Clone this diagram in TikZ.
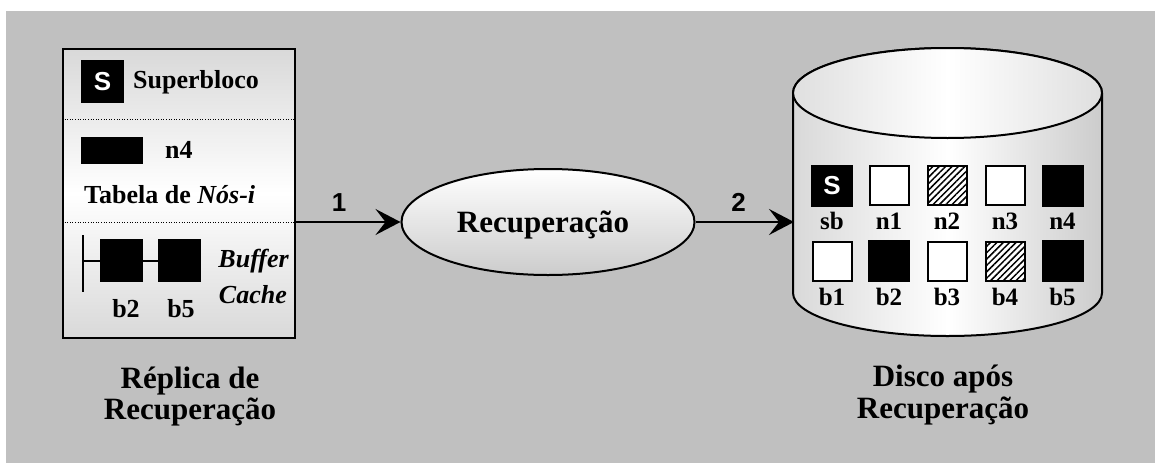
\documentclass[tikz,border=0pt]{standalone}
\usepackage{fontspec}
\setmainfont{Liberation Serif}
\newfontfamily\sansb{Liberation Sans}
\usetikzlibrary{shapes.geometric,arrows.meta,patterns.meta}
\definecolor{bggray}{RGB}{192,192,192}
\begin{document}
\begin{tikzpicture}[x=1pt,y=-1pt,
  lw/.style={line width=2pt},
  blk/.style={draw=black,fill=black,lw,inner sep=0,minimum size=40pt},
  wht/.style={draw=black,fill=white,lw,inner sep=0,minimum size=39pt},
  hat/.style={draw=black,fill=white,lw,inner sep=0,minimum size=39pt,
     postaction={pattern={Lines[angle=45,distance=4.5pt,line width=1.5pt]}}},
  lbl/.style={font=\fontsize{25}{28}\selectfont\bfseries,inner sep=0,anchor=base},
  txt/.style={font=\fontsize{26}{30}\selectfont\bfseries,inner sep=0},
  captxt/.style={font=\fontsize{31}{34}\selectfont\bfseries,inner sep=0,anchor=base},
  num/.style={font=\sansb\fontsize{26}{28}\selectfont\bfseries,inner sep=0,anchor=base},
  arr/.style={lw,-{Stealth[length=25pt,width=26pt,inset=10pt]}},
  dots/.style={line width=1pt,dash pattern=on 1pt off 1.6pt}]
\useasboundingbox (0,0) rectangle (1155,463);
\fill[bggray] (6,11) rectangle (1155,463);

% left box
\node (rep) [rectangle,draw,lw,inner sep=0,minimum width=232pt,minimum height=289pt,
  top color=gray!30,bottom color=gray!30,middle color=white] at (179,193.5) {};
\draw[dots] (rep.west |- 0,119) -- (rep.east |- 0,119);
\draw[dots] (rep.west |- 0,222) coordinate (d2w) -- (rep.east |- 0,222) coordinate (d2e);
\node (sq) [blk,minimum size=41pt,text=white,font=\sansb\fontsize{26}{28}\selectfont\bfseries] at (102.5,81.5) {S};
\node (sup) [txt,anchor=base west] at (133,88) {Superbloco};
\node (n4r) [blk,minimum width=60pt,minimum height=25pt] at (112,150.5) {};
\node (n4t) [txt,anchor=base west] at (165,158) {n4};
\node (tab) [txt,anchor=base west] at (84,203) {Tabela de \textit{Nós-i}};
\node (bb2) [blk,minimum size=41pt] at (121.5,260.5) {};
\node (bb5) [blk,minimum size=41pt] at (179,260.5) {};
\coordinate (vt) at (83,235);
\coordinate (vb) at (83,292);
\draw[lw] (vt) -- (vb);
\draw[lw] (vt |- bb2.west) -- (bb2.west);
\draw[lw] (bb2.east) -- (bb5.west);
\node (buf) [txt,anchor=base east,font=\fontsize{26}{30}\selectfont\bfseries\itshape] at (289,267) {Buffer};
\node (cac) [txt,anchor=base east,font=\fontsize{26}{30}\selectfont\bfseries\itshape] at (287,303) {Cache};
\node (lb2) [lbl,font=\fontsize{26}{28}\selectfont\bfseries] at (126,317) {b2};
\node (lb5) [lbl,font=\fontsize{26}{28}\selectfont\bfseries] at (181,317) {b5};
\node (c1a) [captxt] at (190,388) {Réplica de};
\node (c1b) [captxt] at (190,419) {Recuperação};

% ellipse
\node (rec) [ellipse,draw,lw,minimum width=293pt,minimum height=106pt,inner sep=0,
  top color=white,bottom color=gray!40] at (548,222) {};
\node (rect) [captxt,font=\fontsize{31}{34}\selectfont\bfseries] at (543,232) {Recuperação};

% disk
\shade[draw=black,lw,left color=gray!30,right color=gray!40,middle color=white]
  (793,93) -- (793,293) arc[start angle=180,end angle=0,x radius=154.5,y radius=43]
  -- (1102,93) arc[start angle=0,end angle=-180,x radius=154.5,y radius=45] -- cycle;
\shade[draw=black,lw,left color=gray!25,right color=gray!25,middle color=white]
  (947.5,93) ellipse[x radius=154.5,y radius=45];
\coordinate (disk) at (794,222);

\node (sb) [blk,text=white,font=\sansb\fontsize{26}{28}\selectfont\bfseries] at (832,185.5) {S};
\node (dn1) [wht] at (889,185.5) {};
\node (dn2) [hat] at (947,185.5) {};
\node (dn3) [wht] at (1005,185.5) {};
\node (dn4) [blk] at (1062.5,185.5) {};
\node (db1) [wht] at (832,261) {};
\node (db2) [blk] at (889,261) {};
\node (db3) [wht] at (947,261) {};
\node (db4) [hat] at (1005,261) {};
\node (db5) [blk] at (1062.5,261) {};
\node (tsb) [lbl] at (832,229) {sb};
\node (tn1) [lbl] at (889,229) {n1};
\node (tn2) [lbl] at (947,229) {n2};
\node (tn3) [lbl] at (1005,229) {n3};
\node (tn4) [lbl] at (1062.5,229) {n4};
\node (tb1) [lbl] at (832,305) {b1};
\node (tb2) [lbl] at (889,305) {b2};
\node (tb3) [lbl] at (947,305) {b3};
\node (tb4) [lbl] at (1005,305) {b4};
\node (tb5) [lbl] at (1062.5,305) {b5};
\node (c2a) [captxt] at (943,386) {Disco após};
\node (c2b) [captxt] at (943,418) {Recuperação};

% arrows
\draw[arr] (d2e) -- (rec.west);
\draw[arr] (rec.east) -- (disk);
\node (one) [num] at (339,211) {1};
\node (two) [num] at (738.5,211) {2};
\end{tikzpicture}
\end{document}
